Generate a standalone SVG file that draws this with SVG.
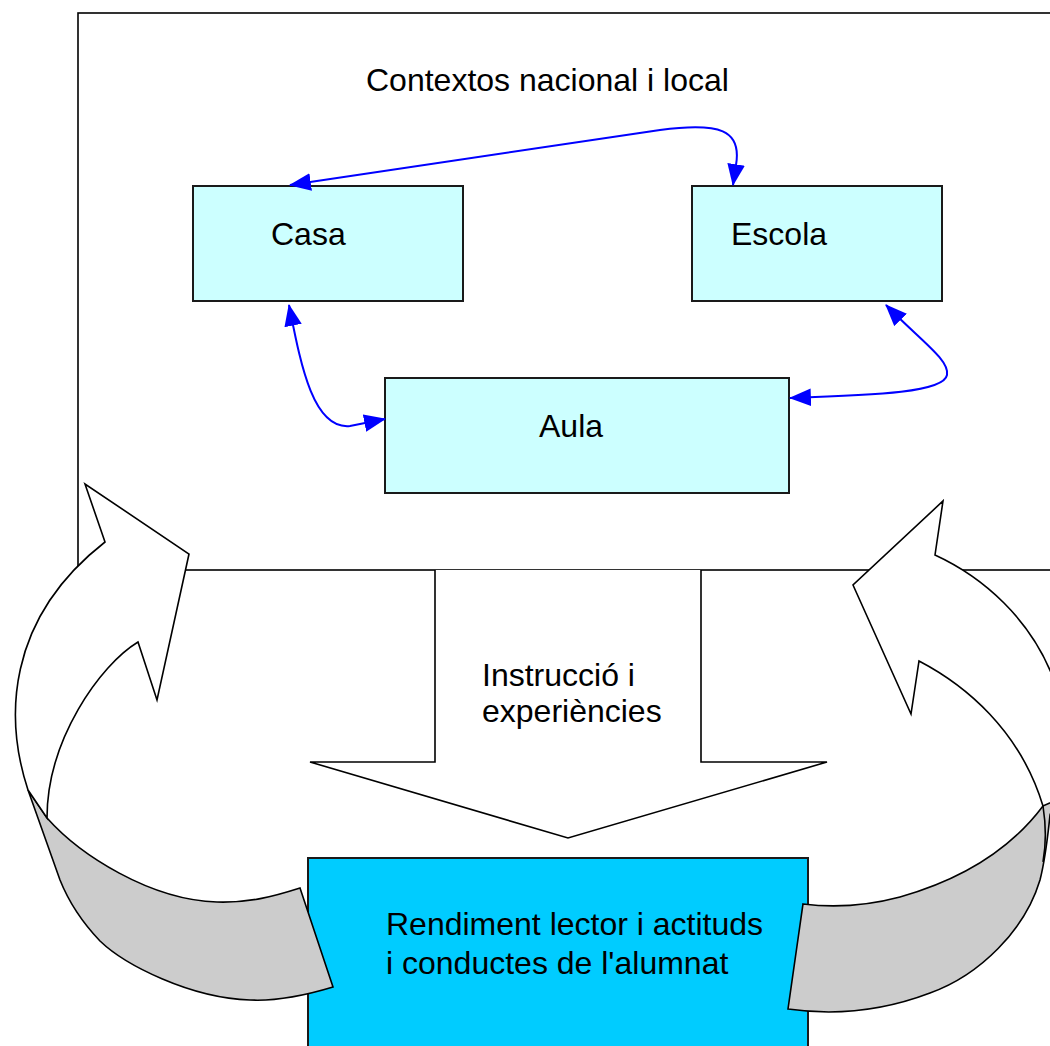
<svg xmlns="http://www.w3.org/2000/svg" width="1050" height="1046" viewBox="0 0 1050 1046">
  <defs>
    <style>
      .txt { font-family: "Liberation Sans", Arial, sans-serif; font-size: 32px; fill: #000; }
      .shape { stroke: #000; stroke-width: 1.6; stroke-linejoin: miter; }
      .box { stroke: #1a1a1a; stroke-width: 2; }
      .conn { fill: none; stroke: #0000FF; stroke-width: 2; marker-start: url(#ah); marker-end: url(#ah); }
    </style>
    <marker id="ah" markerUnits="userSpaceOnUse" markerWidth="22" markerHeight="18" viewBox="0 0 20 16" refX="19" refY="8" orient="auto-start-reverse">
      <path d="M0,0 L20,8 L0,16 Z" fill="#0000FF"/>
    </marker>
  </defs>

  <rect width="1050" height="1046" fill="#FFFFFF"/>

  <g id="frame">
    <rect class="shape" x="78" y="13" width="1000" height="557" fill="#FFFFFF"/>
    <text class="txt" x="366" y="91">Contextos nacional i local</text>
  </g>

  <g id="node-casa">
    <rect class="box" x="193" y="186" width="270" height="115" fill="#CCFFFF"/>
    <text class="txt" x="271" y="245">Casa</text>
  </g>

  <g id="node-escola">
    <rect class="box" x="692" y="186" width="250" height="115" fill="#CCFFFF"/>
    <text class="txt" x="731" y="245">Escola</text>
  </g>

  <g id="node-aula">
    <rect class="box" x="385" y="378" width="404" height="115" fill="#CCFFFF"/>
    <text class="txt" x="539" y="437">Aula</text>
  </g>

  <g id="connectors">
    <path class="conn" d="M290,185 L660,130 C720,122 742,130 736,165 L733,185"/>
    <path class="conn" d="M289,305 C300,360 312,430 350,426 L385,419"/>
    <path class="conn" d="M886,305 C920,340 950,360 947,375 C944,392 880,395 790,398"/>
  </g>

  <g id="arrow-instruccio">
    <path class="shape" d="M435,570 L435,762 L310,762 L568,838 L827,762 L701,762 L701,570" fill="#FFFFFF"/>
    <text class="txt" x="482" y="686">Instrucció i</text>
    <text class="txt" x="482" y="722">experiències</text>
  </g>

  <g id="node-rendiment">
    <rect class="box" x="308" y="858" width="500" height="200" fill="#00CCFF"/>
    <text class="txt" x="386" y="935">Rendiment lector i actituds</text>
    <text class="txt" x="386" y="974">i conductes de l'alumnat</text>
  </g>

  <g id="arrow-left">
    <path class="shape" fill="#CCCCCC" d="M28,790 L47,818 C80,855 150,900 217,902 C250,903 275,896 300,888 L333,987 C300,997 270,1001 250,1000 C190,998 125,965 100,941 C80,920 68,900 60,880 Z"/>
    <path class="shape" fill="#FFFFFF" d="M105,542 L85,484 L189,554 L157,700 L138,642 C100,665 47,740 47,818 L28,790 C5,720 5,620 105,542 Z"/>
  </g>

  <g id="arrow-right">
    <path class="shape" fill="#CCCCCC" d="M1043,806 C1010,850 960,880 900,897 C870,905 835,908 803,904 L788,1009 C830,1015 880,1012 930,993 C980,975 1025,930 1040,880 C1045,860 1048,835 1050,815 L1060,790 L1050,797 Z"/>
    <path class="shape" fill="#FFFFFF" d="M935,555 L943,501 L853,585 L911,714 L919,661 C965,685 1020,730 1043,806 L1080,790 L1080,780 C1077,740 1068,705 1052,675 C1030,620 985,578 935,555 Z"/>
    <path class="shape" fill="none" d="M1043,806 C1046,825 1046,845 1043,862"/>
  </g>
</svg>
